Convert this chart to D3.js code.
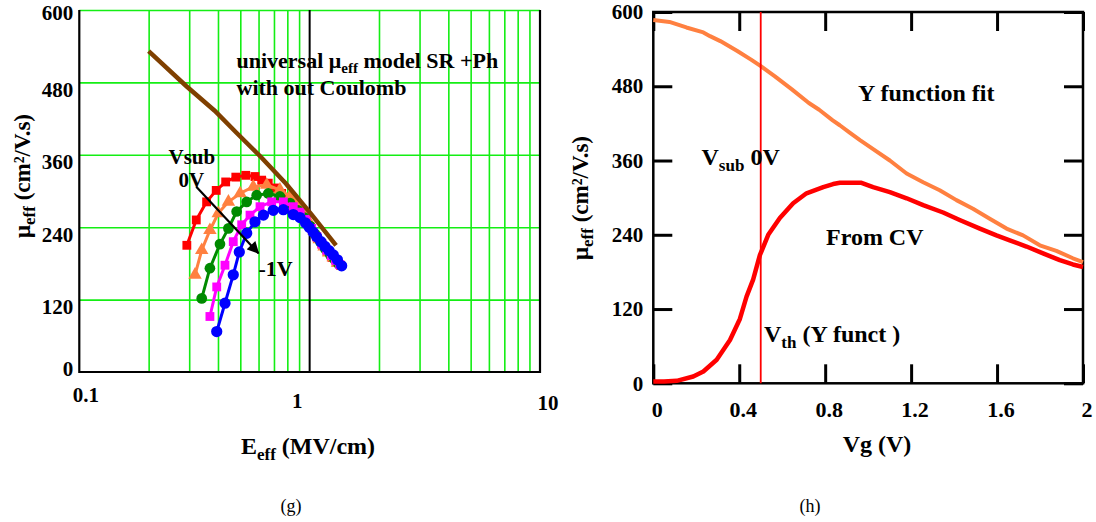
<!DOCTYPE html>
<html><head><meta charset="utf-8">
<script src="https://cdn.jsdelivr.net/npm/d3@7"></script>
<style>
html,body{margin:0;padding:0;background:#fff;}
svg{display:block;}
text{font-family:"Liberation Serif","Times New Roman",serif;}
</style></head><body>
<svg id="chart" width="1096" height="522"></svg>
<script>
// ================= panel (g) data =================
const gXTicks = [0.1, 1, 10];
const gXTickLabels = ["0.1", "1", "10"];
const gYTicks = [0, 120, 240, 360, 480, 600];
const gYTickLabels = ["0", "120", "240", "360", "480", "600"];

// universal model (SR + Ph) line
const modelE  = [0.200, 0.291, 0.387, 0.480, 0.616, 0.790, 1.014, 1.302];
const modelMu = [532, 474, 433, 397, 356, 312, 262, 210];

// Vsub = 0 V (red squares)
const redE  = [0.293,0.322,0.357,0.393,0.432,0.478,0.528,0.579,0.619,0.661,0.707,0.756,0.795,0.836,0.879,0.939,1.003,1.073,1.130,1.190,1.250,1.310,1.360];
const redMu = [210,252,282,301,315,323,326,324,318,313,305,296,288,280,269,255,241,224,212,200,190,182,177];
// orange triangles
const orgE  = [0.318,0.340,0.369,0.401,0.444,0.499,0.569,0.651,0.743,0.822,0.880,0.935,0.990,1.045,1.100,1.155,1.210,1.265,1.320];
const orgMu = [161,202,235,263,282,296,307,310,302,291,279,266,250,234,220,208,198,190,181];
// green circles
const grnE  = [0.340,0.369,0.408,0.444,0.482,0.533,0.589,0.661,0.743,0.822,0.890,0.950,1.005,1.060,1.115,1.170,1.225,1.280,1.335];
const grnMu = [122,172,212,238,266,282,293,296,291,280,268,256,242,228,215,204,195,187,179];
// magenta squares
const magE  = [0.369,0.395,0.429,0.466,0.507,0.551,0.609,0.684,0.769,0.849,0.910,0.965,1.020,1.075,1.130,1.185,1.240,1.295,1.350];
const magMu = [92,141,177,216,244,260,274,282,282,274,265,253,238,224,212,202,193,185,178];
// Vsub = -1 V (blue circles)
const bluE  = [0.395,0.429,0.466,0.495,0.533,0.579,0.630,0.695,0.769,0.849,0.908,0.960,0.995,1.035,1.073,1.120,1.166,1.215,1.267,1.320,1.377];
const bluMu = [67,114,161,199,230,249,260,268,269,261,256,247,240,232,224,216,208,201,194,186,176];

// ================= panel (h) data =================
const hXTicks = [0, 0.4, 0.8, 1.2, 1.6, 2];
const hXTickLabels = ["0", "0.4", "0.8", "1.2", "1.6", "2"];
const hYTicks = [0, 120, 240, 360, 480, 600];
const hYTickLabels = ["0", "120", "240", "360", "480", "600"];
const vthValue = 0.5;

const fitVg = [0,0.075,0.154,0.233,0.264,0.312,0.391,0.455,0.502,0.566,0.645,0.724,0.772,0.835,0.868,0.914,0.962,1.025,1.101,1.179,1.256,1.333,1.411,1.488,1.566,1.644,1.721,1.799,1.876,1.953,2.0];
const fitMu = [587,584,575,567,561,553,537,523,512,496,475,453,442,425,417,405,393,378,360,339,325,312,296,282,266,250,239,223,214,202,196];

const cvVg = [0,0.05,0.109,0.186,0.233,0.295,0.357,0.403,0.434,0.465,0.496,0.535,0.589,0.651,0.713,0.791,0.837,0.868,0.946,0.969,1.023,1.101,1.179,1.256,1.349,1.426,1.52,1.597,1.659,1.737,1.814,1.892,1.953,2.0];
const cvMu = [3,3,4,11,19,38,70,104,140,168,207,240,267,291,307,317,322,324,324,324,317,309,299,288,276,264,250,239,231,221,210,199,192,188];

// ================= drawing =================
const svg = d3.select("#chart");
svg.append("rect").attr("width",1096).attr("height",522).attr("fill","#fff");
const zip = (a,b) => a.map((v,i)=>[v,b[i]]);

// ---------- panel (g) ----------
const gx = d3.scaleLog().domain([0.1,10]).range([79.3,540]);
const gy = d3.scaleLinear().domain([0,600]).range([372,10]);
const G = svg.append("g");
const GREEN = "#14ee14";

// vertical grid (minor log ticks)
const minor = gx.ticks().filter(v => Math.abs(v-0.1)>1e-9 && Math.abs(v-10)>1e-9 && Math.abs(v-1)>1e-9);
G.append("g").attr("transform","translate(0,372)")
  .call(d3.axisBottom(gx).tickValues(minor).tickSize(-(372-10)).tickFormat(""))
  .call(g=>g.select(".domain").remove())
  .call(g=>g.selectAll("line").attr("stroke",GREEN).attr("stroke-width",1.6));
// horizontal grid
G.append("g").attr("transform","translate(79.3,0)")
  .call(d3.axisLeft(gy).tickValues(gYTicks.filter(v=>v>0)).tickSize(-(540-79.3)).tickFormat(""))
  .call(g=>g.select(".domain").remove())
  .call(g=>g.selectAll("line").attr("stroke",GREEN).attr("stroke-width",1.6));
// black line at 1 MV/cm
G.append("line").attr("x1",gx(1)).attr("x2",gx(1)).attr("y1",gy(0)).attr("y2",gy(600))
  .attr("stroke","#000").attr("stroke-width",2);
// frame: left, bottom, right black
G.append("path").attr("d",`M${gx(0.1)},${gy(600)}V${gy(0)}H${gx(10)}V${gy(600)}`)
  .attr("fill","none").attr("stroke","#000").attr("stroke-width",2.2);

// x tick labels
const gxNudge = {"0.1":[6,402],"1":[-13,408],"10":[7.5,410]};
G.append("g").attr("transform","translate(0,372)")
  .call(d3.axisBottom(gx).tickValues(gXTicks).tickSize(0).tickFormat((d,i)=>gXTickLabels[i]))
  .call(g=>g.select(".domain").remove())
  .call(g=>g.selectAll("text")
     .attr("font-family",'"Liberation Serif",serif').attr("font-weight","bold").attr("font-size",21)
     .attr("fill","#000").attr("dy",null)
     .attr("x",(d,i)=>gxNudge[gXTickLabels[i]][0])
     .attr("y",(d,i)=>gxNudge[gXTickLabels[i]][1]-372));
// y tick labels
G.append("g").attr("transform","translate(79.3,0)")
  .call(d3.axisLeft(gy).tickValues(gYTicks).tickSize(0).tickPadding(6).tickFormat((d,i)=>gYTickLabels[i]))
  .call(g=>g.select(".domain").remove())
  .call(g=>g.selectAll("text")
     .attr("font-family",'"Liberation Serif",serif').attr("font-weight","bold").attr("font-size",21)
     .attr("fill","#000")
     .attr("dy",(d)=> d===0 ? "3px" : (d===600 ? "9.5px" : "14px")));

// series
const lineG = d3.line().x(d=>gx(d[0])).y(d=>gy(d[1]));
function series(E, M, color, shape, size){
  const pts = zip(E,M);
  G.append("path").attr("d",lineG(pts)).attr("fill","none").attr("stroke",color)
    .attr("stroke-width",3).attr("stroke-linejoin","round");
  const sym = d3.symbol().type(shape).size(size);
  G.append("g").selectAll("path").data(pts).join("path")
    .attr("transform",d=>`translate(${gx(d[0])},${gy(d[1])})`)
    .attr("d",sym()).attr("fill",color);
}
series(redE, redMu, "#ff0000", d3.symbolSquare, 78);
series(orgE, orgMu, "#ff8040", d3.symbolTriangle, 78);
series(grnE, grnMu, "#008a00", d3.symbolCircle, 90);
series(magE, magMu, "#ff00ff", d3.symbolSquare, 78);
series(bluE, bluMu, "#0000ff", d3.symbolCircle, 100);
// model line
G.append("path").attr("d",lineG(zip(modelE,modelMu))).attr("fill","none")
  .attr("stroke","#7f3f00").attr("stroke-width",4.5).attr("stroke-linecap","butt");

// arrow
svg.append("defs").append("marker").attr("id","ah").attr("viewBox","0 0 10 10")
  .attr("refX",9).attr("refY",5).attr("markerWidth",6).attr("markerHeight",5.5)
  .attr("orient","auto").attr("markerUnits","strokeWidth")
  .append("path").attr("d","M0,0L10,5L0,10Z").attr("fill","#000");
G.append("line").attr("x1",gx(0.322)).attr("y1",gy(307)).attr("x2",gx(0.599)).attr("y2",gy(197))
  .attr("stroke","#000").attr("stroke-width",2.2).attr("marker-end","url(#ah)");

// annotations
function txt(parent, x, y, size, bold){
  return parent.append("text").attr("x",x).attr("y",y).attr("font-size",size)
    .attr("font-weight",bold?"bold":"normal").attr("fill","#000");
}
{
  const t = txt(G,236.5,68,22,true);
  t.append("tspan").text("universal μ");
  t.append("tspan").text("eff").attr("font-size",15).attr("dy",5);
  t.append("tspan").text(" model SR +Ph").attr("dy",-5);
  txt(G,236.5,95,22,true).text("with out Coulomb");
  txt(G,168.5,164,21,true).text("Vsub");
  txt(G,178.5,187,21,true).text("0V");
  txt(G,258.5,276,22,true).text("-1V");
}
// axis titles
{
  const t = txt(G,308,454,24,true).attr("text-anchor","middle");
  t.append("tspan").text("E");
  t.append("tspan").text("eff").attr("font-size",17).attr("dy",6);
  t.append("tspan").text(" (MV/cm)").attr("dy",-6);
  const r = G.append("text").attr("transform","translate(30,176) rotate(-90)")
    .attr("text-anchor","middle").attr("font-size",23).attr("font-weight","bold");
  r.append("tspan").text("μ");
  r.append("tspan").text("eff").attr("font-size",17).attr("dy",5);
  r.append("tspan").text(" (cm²/V.s)").attr("dy",-5);
  txt(G,291,512,18,false).attr("text-anchor","middle").text("(g)");
}

// ---------- panel (h) ----------
const hx = d3.scaleLinear().domain([0,2]).range([653.3,1083]);
const hy = d3.scaleLinear().domain([0,600]).range([383.3,12]);
const H = svg.append("g");
const TICK = 19;
function styleAxis(g, labels){
  g.select(".domain").remove();
  g.selectAll("line").attr("stroke","#000").attr("stroke-width",3);
  if(!labels) g.selectAll("text").remove();
  else g.selectAll("text").attr("font-family",'"Liberation Serif",serif').attr("font-weight","bold")
        .attr("font-size",21).attr("fill","#000");
}
H.append("g").attr("transform",`translate(0,${hy(0)})`)
  .call(d3.axisBottom(hx).tickValues(hXTicks).tickSize(-TICK).tickFormat((d,i)=>hXTickLabels[i]))
  .call(g=>styleAxis(g,true))
  .call(g=>g.selectAll("text").attr("dy",null).attr("y",34).attr("x",3.5).attr("font-size",22));
H.append("g").attr("transform",`translate(0,${hy(600)})`)
  .call(d3.axisTop(hx).tickValues(hXTicks).tickSize(-TICK)).call(g=>styleAxis(g,false));
H.append("g").attr("transform",`translate(${hx(0)},0)`)
  .call(d3.axisLeft(hy).tickValues(hYTicks).tickSize(-TICK).tickPadding(10).tickFormat((d,i)=>hYTickLabels[i]))
  .call(g=>styleAxis(g,true));
H.append("g").attr("transform",`translate(${hx(2)},0)`)
  .call(d3.axisRight(hy).tickValues(hYTicks).tickSize(-TICK)).call(g=>styleAxis(g,false));
H.append("rect").attr("x",hx(0)).attr("y",hy(600)).attr("width",hx(2)-hx(0)).attr("height",hy(0)-hy(600))
  .attr("fill","none").attr("stroke","#000").attr("stroke-width",2.5);

const lineH = d3.line().x(d=>hx(d[0])).y(d=>hy(d[1]));
H.append("path").attr("d",lineH(zip(fitVg,fitMu))).attr("fill","none").attr("stroke","#ff8040")
  .attr("stroke-width",4).attr("stroke-linejoin","round");
H.append("path").attr("d",lineH(zip(cvVg,cvMu))).attr("fill","none").attr("stroke","#ff0000")
  .attr("stroke-width",4.5).attr("stroke-linejoin","round");
H.append("line").attr("x1",hx(vthValue)).attr("x2",hx(vthValue)).attr("y1",hy(0)).attr("y2",hy(600))
  .attr("stroke","#ff0000").attr("stroke-width",1.8);

txt(H,858,101,24,true).text("Y function fit");
txt(H,826,245,24,true).text("From CV");
{
  const a = txt(H,701.5,165,24,true);
  a.append("tspan").text("V");
  a.append("tspan").text("sub").attr("font-size",17).attr("dy",6);
  a.append("tspan").text(" 0V").attr("dy",-6);
  const b = txt(H,764,342,24,true);
  b.append("tspan").text("V");
  b.append("tspan").text("th").attr("font-size",17).attr("dy",6);
  b.append("tspan").text(" (Y funct )").attr("dy",-6);
  txt(H,877,452,24,true).attr("text-anchor","middle").text("Vg (V)");
  const r = H.append("text").attr("transform","translate(588,198) rotate(-90)")
    .attr("text-anchor","middle").attr("font-size",23).attr("font-weight","bold");
  r.append("tspan").text("μ");
  r.append("tspan").text("eff").attr("font-size",17).attr("dy",5);
  r.append("tspan").text(" (cm²/V.s)").attr("dy",-5);
  txt(H,810,512,18,false).attr("text-anchor","middle").text("(h)");
}
</script>
</body></html>
